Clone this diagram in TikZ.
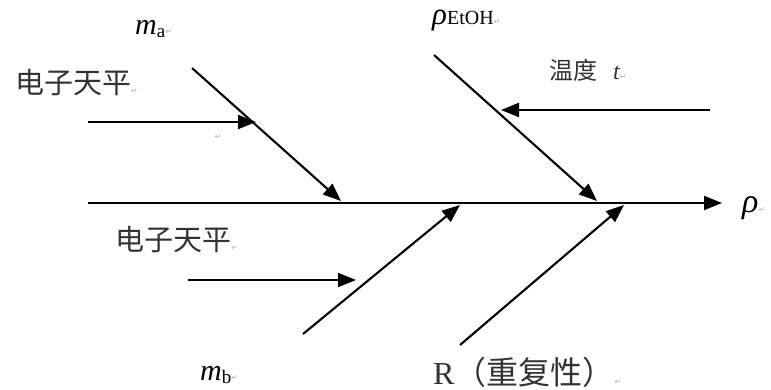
\documentclass[tikz,border=0pt]{standalone}
\usepackage{fontspec}
\setmainfont{Liberation Serif}
\newfontfamily\cjk{Noto Sans CJK SC}
\newfontfamily\symfont{DejaVu Sans}
\usetikzlibrary{arrows.meta,positioning}
\newcommand{\pmark}{{\symfont\fontsize{8}{8}\selectfont\textcolor{gray!60}{↵}}}
\newcommand{\subtxt}[1]{\raisebox{-3pt}{\fontsize{19}{19}\selectfont #1}}

\begin{document}
\begin{tikzpicture}[x=1pt,y=-1pt,
			arr/.style={-{Triangle[length=18pt,width=14pt]},line width=2.1pt},
			zh/.style={inner sep=0pt,anchor=west,text=black!80,font=\cjk\fontsize{29}{29}\selectfont},
			la/.style={inner sep=0pt,anchor=base west,font=\fontsize{30}{30}\selectfont}
			]
			\useasboundingbox (0,0) rectangle (771,390);
			\coordinate (spL) at (88,203);
			\coordinate (spR) at (722,203);
			\coordinate (maS) at (192,68);
			\coordinate (maE) at (341,201);
			\coordinate (scA) at (88,122);
			\coordinate (scAE) at (256,122);
			\coordinate (rhS) at (434,55);
			\coordinate (rhE) at (597,201);
			\coordinate (tS) at (710,110);
			\coordinate (tE) at (501,110);
			\coordinate (mbS) at (303,334);
			\coordinate (mbE) at (460,205);
			\coordinate (scB) at (188,280);
			\coordinate (scBE) at (356,280);
			\coordinate (rS) at (460,345);
			\coordinate (rE) at (624,205);
			\node[zh] (scaleA) at (15,83) {电子天平\pmark};
			\node[zh] (scaleB) at (115,240) {电子天平\pmark};
			\node[la] (ma) at (135,35) {\textit{m}\subtxt{a}\pmark};
			\node[la] (mb) at (200,380) {\textit{m}\subtxt{b}\pmark};
			\node[la] (rhoE) at (432,25) {{\fontsize{31}{31}\selectfont\textit{ρ}}{\fontsize{20}{20}\selectfont EtOH}\pmark};
			\node[zh,font=\cjk\fontsize{24}{24}\selectfont] (temp) at (549,70) {温度\hspace{16pt}{\rmfamily\itshape t}\pmark};
			\node[zh,font=\cjk\fontsize{32}{32}\selectfont] (rep) at (433,372) {{\rmfamily R}（重复性）\pmark};
			\node[la,font=\fontsize{34}{34}\selectfont] (rho) at (742,213) {\textit{ρ}\pmark};
			\node[inner sep=0pt] (pm) at (218,137) {\pmark};
			\draw[arr] (spL) -- (spR);
			\draw[arr] (maS) -- (maE);
			\draw[arr] (scA) -- (scAE);
			\draw[arr] (rhS) -- (rhE);
			\draw[arr] (tS) -- (tE);
			\draw[arr] (mbS) -- (mbE);
			\draw[arr] (scB) -- (scBE);
			\draw[arr] (rS) -- (rE);
		\end{tikzpicture}
\end{document}
